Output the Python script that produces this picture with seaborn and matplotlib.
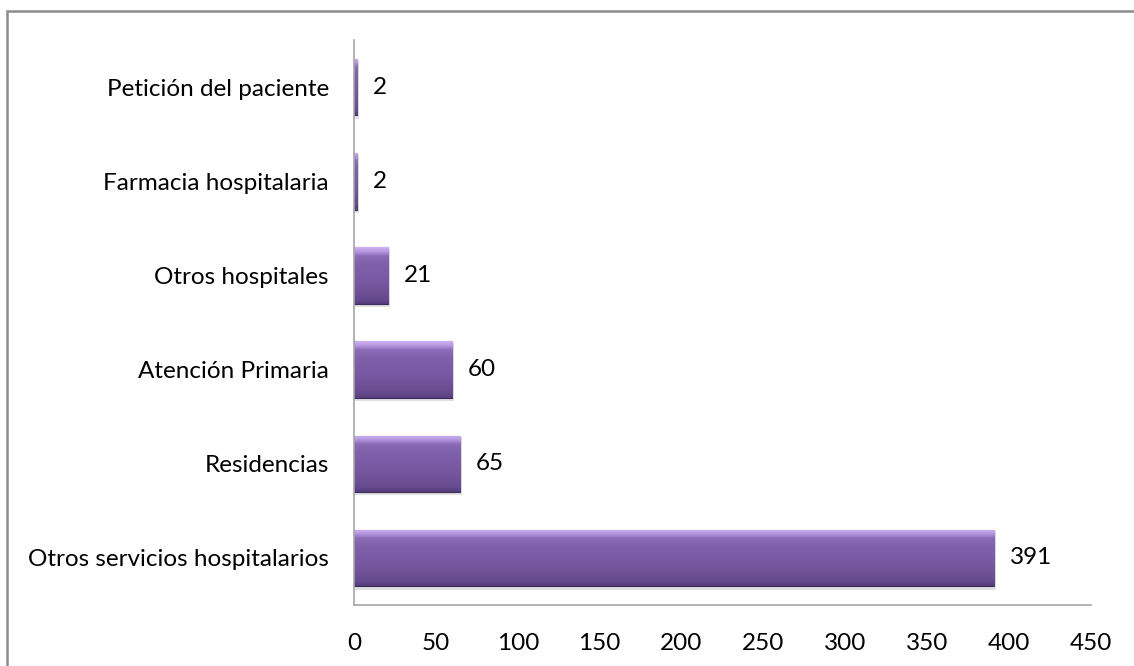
import numpy as np
import pandas as pd
import matplotlib
matplotlib.use("Agg")
import matplotlib.pyplot as plt
from matplotlib.colors import LinearSegmentedColormap
from matplotlib.patches import Rectangle
import seaborn as sns

categories = [
    "Petición del paciente",
    "Farmacia hospitalaria",
    "Otros hospitales",
    "Atención Primaria",
    "Residencias",
    "Otros servicios hospitalarios",
]
values = [2, 2, 21, 60, 65, 391]
x_ticks = [0, 50, 100, 150, 200, 250, 300, 350, 400, 450]

sns.set_theme(style="white")
plt.rcParams["font.family"] = ["Lato", "DejaVu Sans"]

df = pd.DataFrame({"origen": categories, "n": values})

fig = plt.figure(figsize=(11.34, 6.66), dpi=100)
ax = fig.add_axes([354 / 1134, 1 - 605 / 666, (1091 - 354) / 1134, (605 - 40) / 666])

sns.barplot(data=df, y="origen", x="n", orient="h", color="#7b5ba6",
            width=0.6, ax=ax, saturation=1)

# bevelled purple fill: vertical gradient clipped to each bar
bevel = LinearSegmentedColormap.from_list(
    "bevel",
    [(0.0, "#553b7a"), (0.08, "#664a8f"), (0.35, "#76579f"),
     (0.7, "#7f60ab"), (0.84, "#8b6bb7"), (0.92, "#b596e0"), (1.0, "#cdb2f2")],
)
grad = np.linspace(0, 1, 256).reshape(-1, 1)
for p in list(ax.patches):
    x0, y0 = p.get_x(), p.get_y()
    w, h = p.get_width(), p.get_height()
    # soft shadow beneath the bar
    ax.add_patch(Rectangle((x0, y0 + h * 0.03), w + 1.0, h * 1.03,
                           facecolor="#000000", alpha=0.12, lw=0, zorder=1.5))
    p.set_edgecolor("#3f2a5e")
    p.set_linewidth(0.8)
    p.set_zorder(2)
    im = ax.imshow(grad, cmap=bevel, aspect="auto",
                   extent=(x0, x0 + w, y0 + h, y0), origin="lower", zorder=2.1)
    im.set_clip_path(p)
    ax.text(x0 + w + 9.5, y0 + h / 2, f"{int(round(w))}", va="center", ha="left",
            fontsize=17.5, color="#000000")

ax.set_xlim(0, 450)
ax.set_ylim(5.5, -0.5)
ax.set_xticks(x_ticks)
ax.set_xticklabels([str(t) for t in x_ticks])
ax.set_xlabel("")
ax.set_ylabel("")
ax.tick_params(axis="x", length=0, pad=20, labelsize=17.5, colors="#000000")
ax.tick_params(axis="y", length=0, pad=18, labelsize=17.5, colors="#000000")

for side in ("top", "right"):
    ax.spines[side].set_visible(False)
for side in ("left", "bottom"):
    ax.spines[side].set_color("#a6a6a6")
    ax.spines[side].set_linewidth(1.2)

# outer chart frame
fig.patches.append(Rectangle((7 / 1134, -0.05), 1.2, 1 - 11 / 666 + 0.05,
                             transform=fig.transFigure, fill=False,
                             edgecolor="#8c8c8c", linewidth=1.8))

fig.savefig("out.png", dpi=100, facecolor="white")
